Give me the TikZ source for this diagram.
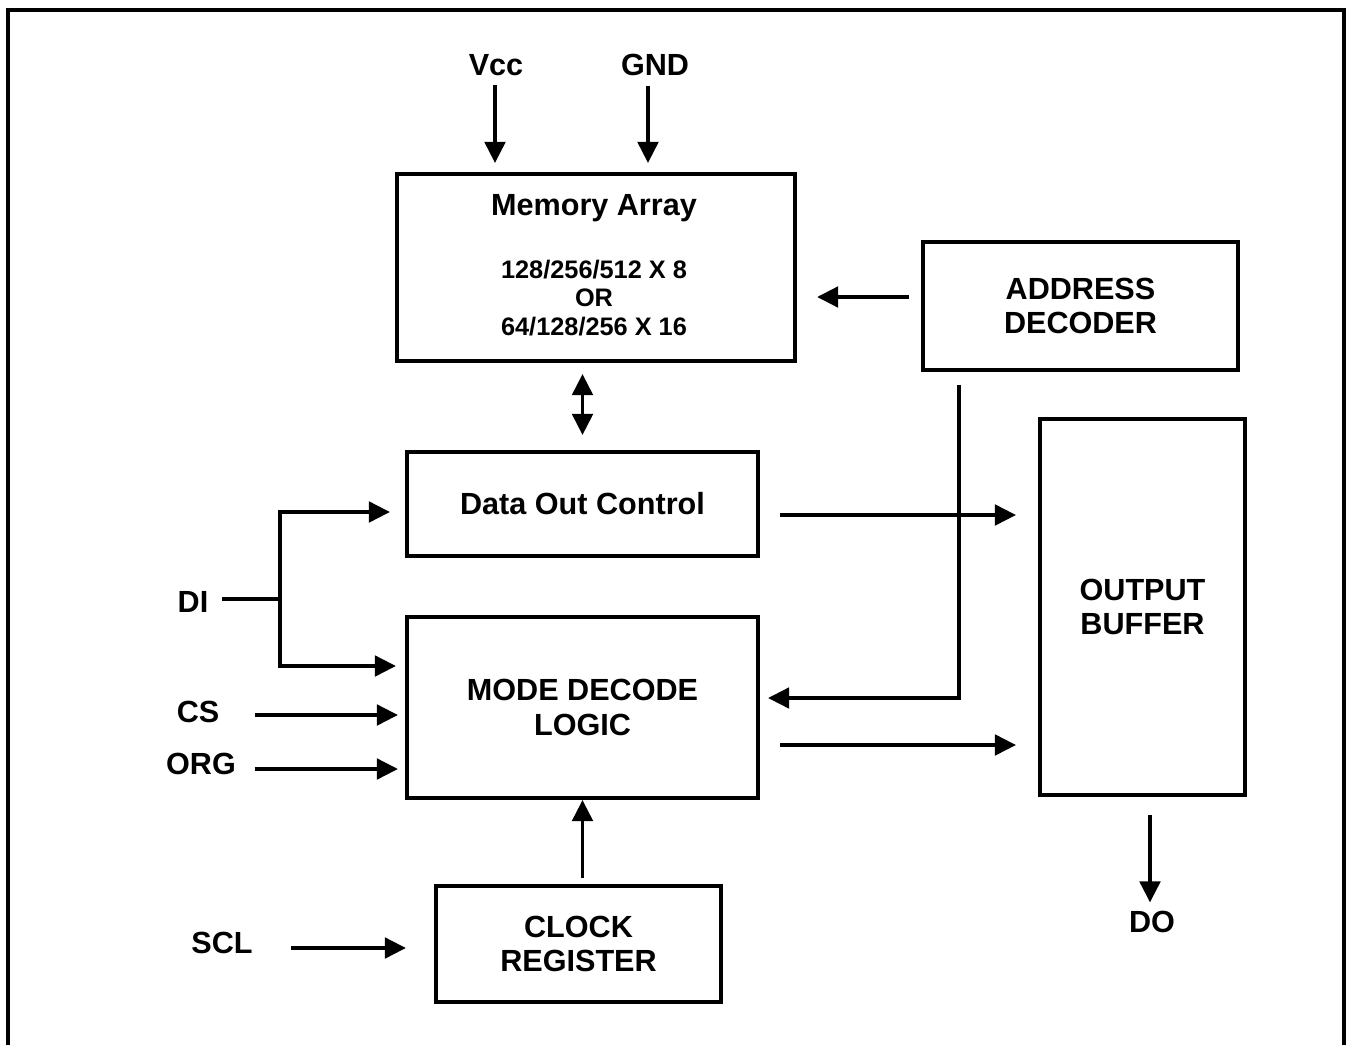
\documentclass[tikz,border=0pt]{standalone}
\usepackage{fontspec}
\setmainfont{Liberation Sans}
\usetikzlibrary{arrows.meta,calc,positioning}

\tikzset{
  blk/.style={draw, line width=1.1pt, inner sep=0pt, align=center,
    font=\fontsize{8.7}{9.9}\selectfont\bfseries},
  lbl/.style={inner sep=0pt, align=center, font=\fontsize{8.7}{9.9}\selectfont\bfseries},
  small/.style={inner sep=0pt, align=center, font=\fontsize{7.2}{8.2}\selectfont\bfseries},
  wire/.style={line width=1.1pt},
  arr/.style={wire, -{Triangle[length=6pt,width=5.8pt]}},
  dbl/.style={wire, {Triangle[length=6pt,width=5.8pt]}-{Triangle[length=6pt,width=5.8pt]}},
}

\begin{document}
\begin{tikzpicture}[x=0.01cm, y=-0.01cm]
  \useasboundingbox (0,0) rectangle (1348,1045);
  \draw[line width=1pt] (8,1045) |- (1344,10) -- (1344,1045);

  % blocks
  \node[blk, minimum width=3.98cm, minimum height=1.87cm] (mem) at (596,267.5) {};
  \node[lbl] (memT) at (594,208) {Memory Array};
  \node[small] (memS) at (594,298) {128/256/512 X 8\\OR\\64/128/256 X 16};
  \node[blk, minimum width=3.15cm, minimum height=1.28cm] (addr) at (1080.5,306) {ADDRESS\\DECODER};
  \node[blk, minimum width=3.51cm, minimum height=1.04cm] (doc) at (582.5,504) {Data Out Control};
  \node[blk, minimum width=3.51cm, minimum height=1.81cm] (mode) at (582.5,707.5) {MODE DECODE\\LOGIC};
  \node[blk, minimum width=2.05cm, minimum height=3.76cm] (ob) at (1142.5,607) {OUTPUT\\BUFFER};
  \node[blk, minimum width=2.85cm, minimum height=1.16cm] (clk) at (578.5,944) {CLOCK\\REGISTER};

  % pins
  \node[lbl] (vcc) at (496,65) {Vcc};
  \node[lbl] (gnd) at (655,65) {GND};
  \node[lbl] (di) at (193,602) {DI};
  \node[lbl] (cs) at (198,712) {CS};
  \node[lbl] (org) at (201,764) {ORG};
  \node[lbl] (scl) at (222,943) {SCL};
  \node[lbl] (do) at (1152,922) {DO};

  % supply
  \coordinate (vccA) at ($(vcc.south)+(-1,9)$);
  \coordinate (gndA) at ($(gnd.south)+(-7,9)$);
  \draw[arr, shorten >=0.09cm] (vccA) -- (vccA |- mem.north);
  \draw[arr, shorten >=0.09cm] (gndA) -- (gndA |- mem.north);

  % address
  \coordinate (addrA) at ($(addr.west)+(-12,-9)$);
  \draw[arr, shorten >=0.2cm] (addrA) -- (addrA -| mem.east);
  \coordinate (addrB) at ($(addr.south west)+(38,13)$);
  \draw[arr, shorten >=0.08cm] (addrB) |- ($(mode.east)+(0,-9.5)$);

  % data bus
  \draw[dbl, shorten <=0.11cm, shorten >=0.15cm] (mem.south -| doc.north) -- (doc.north);

  % inputs
  \coordinate (diJ) at ($(di.east)+(71,-3)$);
  \draw[wire] ($(di.east)+(13,-3)$) -- (diJ);
  \draw[arr] (diJ) |- ($(doc.west)+(-15,8)$);
  \draw[arr] (diJ) |- ($(mode.west)+(-9,-41.5)$);
  \draw[arr, shorten >=0.07cm] ($(cs.east)+(35,3)$) -- ($(mode.west)+(0,7.5)$);
  \draw[arr, shorten >=0.07cm] ($(org.east)+(18,5)$) -- ($(mode.west)+(0,61.5)$);
  \draw[arr, shorten >=0.28cm] ($(scl.east)+(37.5,5)$) -- ($(clk.west)+(0,4)$);
  \draw[arr, shorten <=0.06cm] (clk.north -| mode.south) -- (mode.south);

  % outputs
  \coordinate (docO) at ($(doc.east)+(20,11)$);
  \coordinate (modeO) at ($(mode.east)+(20,37.5)$);
  \draw[arr, shorten >=0.22cm] (docO) -- (docO -| ob.west);
  \draw[arr, shorten >=0.22cm] (modeO) -- (modeO -| ob.west);
  \coordinate (obB) at ($(ob.south)+(7.5,18)$);
  \draw[arr, shorten >=0.08cm] (obB) -- (obB |- do.north);
\end{tikzpicture}
\end{document}
